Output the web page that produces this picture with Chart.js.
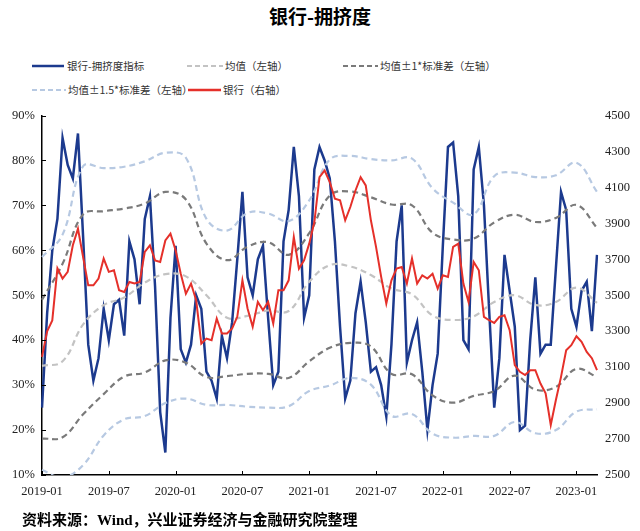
<!DOCTYPE html>
<html>
<head>
<meta charset="utf-8">
<script src="https://cdn.jsdelivr.net/npm/chart.js@4.4.1/dist/chart.umd.min.js"></script>
<style>
  html, body { margin: 0; padding: 0; background: #fff; }
  #wrap { position: relative; width: 640px; height: 531px; overflow: hidden; }
  #title { position: absolute; left: 0; top: 2px; width: 640px; text-align: center; line-height: 24px;
           font: bold 19px "Noto Sans CJK SC"; color: #000; }
  .lgt { position: absolute; font: 10.5px "Noto Sans CJK SC"; color: #333; white-space: nowrap; line-height: 14px; }
  .lgs { position: absolute; }
  #source { position: absolute; left: 22px; top: 508px; line-height: 20px; white-space: nowrap;
            font: bold 15px "Liberation Serif", "Noto Sans CJK SC"; color: #000; }
  #chart { position: absolute; left: 0; top: 100px; }
</style>
</head>
<body>
<div id="wrap">
  <div id="title">银行-拥挤度</div>

  <svg class="lgs" style="left:32px;top:62px" width="32" height="8"><line x1="0" y1="4" x2="32" y2="4" stroke="#1c3a8e" stroke-width="2.5"/></svg>
  <div class="lgt" style="left:67px;top:59px">银行-拥挤度指标</div>
  <svg class="lgs" style="left:187px;top:62px" width="36" height="8"><line x1="0" y1="4" x2="36" y2="4" stroke="#c3c3c3" stroke-width="2.2" stroke-dasharray="5 3"/></svg>
  <div class="lgt" style="left:225px;top:59px">均值（左轴）</div>
  <svg class="lgs" style="left:343px;top:62px" width="35" height="8"><line x1="0" y1="4" x2="35" y2="4" stroke="#7a7a7a" stroke-width="2.2" stroke-dasharray="5 3"/></svg>
  <div class="lgt" style="left:380px;top:59px">均值±1*标准差（左轴）</div>

  <svg class="lgs" style="left:32px;top:86px" width="34" height="8"><line x1="0" y1="4" x2="34" y2="4" stroke="#b7c9e2" stroke-width="2.2" stroke-dasharray="5 3"/></svg>
  <div class="lgt" style="left:68px;top:83px">均值±1.5*标准差（左轴）</div>
  <svg class="lgs" style="left:188px;top:86px" width="33" height="8"><line x1="0" y1="4" x2="33" y2="4" stroke="#e5302a" stroke-width="2.5"/></svg>
  <div class="lgt" style="left:223px;top:83px">银行（右轴）</div>

  <canvas id="chart" width="640" height="410"></canvas>
  <div id="source">资料来源：Wind，兴业证券经济与金融研究院整理</div>
</div>
<script>
// biweekly observation dates, 2019-01-04 .. 2023-02-24
const labels = [];
for (let i = 0; i < 109; i++) {
  const d = new Date(Date.UTC(2019, 0, 4 + 14 * i));
  labels.push(d.toISOString().slice(0, 10));
}
const xTickLabels = ['2019-01', '2019-07', '2020-01', '2020-07', '2021-01', '2021-07', '2022-01', '2022-07', '2023-01'];
const TICK_EVERY = 13;

// 银行-拥挤度指标 (%)
const crowding = [
  25, 46, 60, 67, 85, 79, 76, 86, 63, 39, 31, 36, 47, 40, 48, 49, 41, 62, 58, 48, 67, 72,
  52, 24, 15, 45, 61, 38, 35, 39, 50, 47, 33, 31, 27, 41, 36, 44, 58, 73, 54, 50, 58, 61,
  45, 30, 33, 62, 69, 83, 72, 45, 50, 78, 83, 80, 76, 62, 43, 27, 31, 46, 53, 44, 33,
  34, 30, 23, 39, 62, 70, 35, 40, 44, 33, 20, 30, 37, 61, 83, 84, 72, 40, 38, 78, 83,
  70, 47, 25, 36, 59, 51, 43, 20, 21, 40, 54, 37, 39, 39, 56, 73, 69, 47, 43, 51, 53, 42, 59
];

// 银行指数 (right axis)
const bankIndex = [
  3157, 3300, 3360, 3650, 3593, 3630, 3778, 3870, 3713, 3555, 3555, 3593, 3704, 3630, 3639, 3528, 3518, 3574, 3565, 3574, 3741, 3778,
  3694, 3685, 3805, 3843, 3750, 3620, 3509, 3565, 3472, 3231, 3259, 3250, 3370, 3287, 3287, 3315, 3380, 3583, 3426, 3324, 3463, 3417,
  3463, 3343, 3528, 3528, 3583, 3824, 3648, 3694, 3787, 3907, 4157, 4194, 4130, 4037, 4028, 3917, 3991, 4083, 4157, 4111, 3917,
  3769, 3602, 3454, 3583, 3648, 3657, 3565, 3704, 3565, 3611, 3593, 3620, 3537, 3611, 3602, 3769, 3787, 3565, 3463, 3685, 3639,
  3380, 3361, 3346, 3380, 3389, 3306, 3111, 3074, 3056, 3083, 3083, 3009, 2954, 2778, 2917, 3046, 3194, 3222, 3272, 3241, 3185, 3150, 3083
];

// bands, read every 4th observation (8 weeks)
const BAND_STEP = 4;
const meanLine = [34.3, 35.3, 43.5, 47.8, 49.5, 52.8, 54.7, 54.2, 50, 45, 45.4, 46.6, 46.5, 53,
                  56.7, 56.4, 54.5, 51.5, 50.2, 45.5, 44.5, 45.3, 48.5, 50, 47.8, 48.5, 51.7, 48.3];
const upper1 = [49, 57, 68, 68.7, 69.3, 70.4, 73, 71.3, 61.5, 57.8, 60.8, 61.8, 59, 63.8,
                72.2, 73.1, 71.8, 70.2, 70, 63.9, 62.4, 62.6, 66.2, 67.9, 66.3, 67.2, 70.1, 65];
const lower1 = [18.1, 18.4, 23.5, 28, 31.9, 32.8, 35.5, 35, 31.8, 32, 32.5, 32.5, 31.6, 35.3,
                38.3, 39.4, 38.6, 32.5, 32.4, 27.7, 26.1, 27.6, 28.7, 32.1, 29, 29.6, 33.6, 31.8];
const upper15 = [58.5, 63.5, 78.7, 78.3, 78.6, 79.8, 81.7, 80.6, 67, 64.4, 68.3, 68.2, 66.5, 71.1,
                 80.2, 81, 80.3, 80, 80.4, 73.8, 70.6, 68, 76.5, 77.3, 76.3, 76.7, 79.5, 73];
const lower15 = [11.1, 9.5, 12.2, 18.8, 22.4, 23.1, 26, 27, 25.6, 25.6, 25.2, 25, 25.3, 28.7,
                 29.9, 31.6, 30.1, 23.2, 23.6, 19.2, 18.3, 18.7, 18.7, 21.8, 19.3, 20, 24.1, 24.6];

function band(values) {
  return values.map((v, k) => ({ x: labels[k * BAND_STEP], y: v }));
}

function dashed(data, color) {
  return {
    data: band(data), yAxisID: 'y', borderColor: color, borderWidth: 2.2,
    borderDash: [6, 4], pointRadius: 0, tension: 0.4, order: 1
  };
}

const tickFont = { family: 'Liberation Serif', size: 12.5 };

const innerTicks = {
  id: 'innerTicks',
  afterDraw(chart) {
    const { ctx, chartArea, scales } = chart;
    ctx.save();
    ctx.strokeStyle = '#000';
    ctx.lineWidth = 1;
    scales.y.ticks.forEach(t => {
      const py = Math.round(scales.y.getPixelForValue(t.value)) + 0.5;
      ctx.beginPath();
      ctx.moveTo(chartArea.left, py);
      ctx.lineTo(chartArea.left + 4, py);
      ctx.stroke();
    });
    labels.forEach((l, i) => {
      if (i % TICK_EVERY !== 0) return;
      const px = Math.round(scales.x.getPixelForValue(i)) + 0.5;
      ctx.beginPath();
      ctx.moveTo(px, chartArea.bottom);
      ctx.lineTo(px, chartArea.bottom - 4);
      ctx.stroke();
    });
    ctx.restore();
  }
};

new Chart(document.getElementById('chart').getContext('2d'), {
  type: 'line',
  data: {
    labels: labels,
    datasets: [
      { data: bankIndex, yAxisID: 'y2', borderColor: '#e5302a', borderWidth: 2, pointRadius: 0, tension: 0, order: 0 },
      dashed(meanLine, '#c3c3c3'),
      dashed(upper1, '#7a7a7a'),
      dashed(lower1, '#7a7a7a'),
      dashed(upper15, '#b7c9e2'),
      dashed(lower15, '#b7c9e2'),
      { data: crowding, yAxisID: 'y', borderColor: '#1c3a8e', borderWidth: 2.5, pointRadius: 0, tension: 0, order: 2 }
    ]
  },
  options: {
    responsive: false,
    animation: false,
    layout: { padding: { top: 15, left: 0, right: 0, bottom: 0 } },
    plugins: { legend: { display: false }, tooltip: { enabled: false } },
    scales: {
      x: {
        offset: false,
        grid: { display: false, drawTicks: false },
        border: { display: true, color: '#000', width: 1.5 },
        afterFit: s => { s.height = 35; },
        ticks: {
          autoSkip: false, maxRotation: 0, padding: 9, color: '#222', font: tickFont,
          callback: (v, i) => (i % TICK_EVERY === 0 ? xTickLabels[i / TICK_EVERY] : null)
        }
      },
      y: {
        position: 'left', min: 10, max: 90,
        grid: { display: false, drawTicks: false },
        border: { display: true, color: '#000', width: 1.5 },
        afterFit: s => { s.width = 42; },
        ticks: { stepSize: 10, padding: 7, color: '#222', font: tickFont, callback: v => v + '%' }
      },
      y2: {
        position: 'right', min: 2500, max: 4500,
        grid: { display: false, drawTicks: false },
        border: { display: false },
        afterFit: s => { s.width = 43; },
        ticks: { stepSize: 200, padding: 8, color: '#222', font: tickFont, callback: v => String(v) }
      }
    }
  },
  plugins: [innerTicks]
});
</script>
</body>
</html>
